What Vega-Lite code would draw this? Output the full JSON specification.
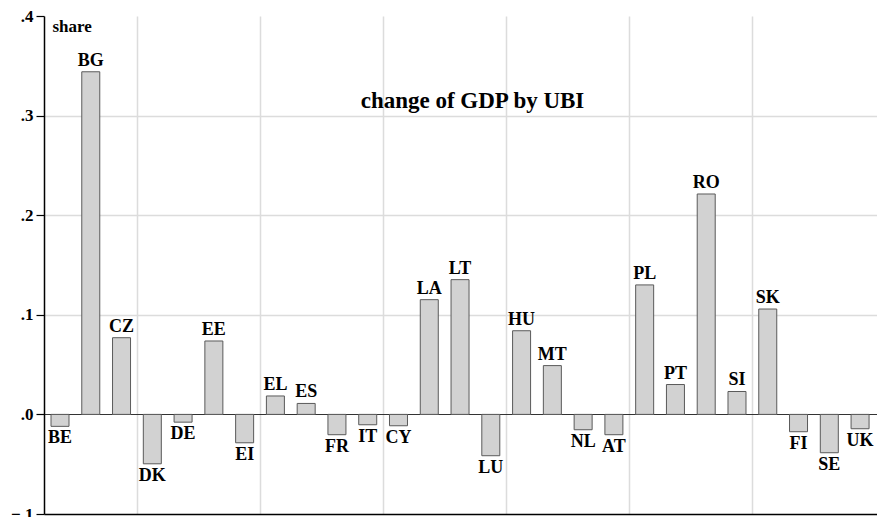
{
  "$schema": "https://vega.github.io/schema/vega-lite/v6.json",
  "width": 833,
  "height": 498,
  "autosize": {"type": "none"},
  "padding": {"left": 44, "top": 16, "right": 0, "bottom": 3},
  "background": "white",
  "title": {
    "text": "change of GDP by UBI",
    "font": "Liberation Serif",
    "fontWeight": "bold",
    "fontSize": 23,
    "color": "black",
    "anchor": "middle",
    "baseline": "middle",
    "offset": 0,
    "dy": 117,
    "dx": 12
  },
  "config": {
    "view": {"stroke": null},
    "text": {"font": "Liberation Serif", "fontWeight": "bold", "fontSize": 18, "color": "black"}
  },
  "data": {
    "values": [
      {"country": "BE", "idx": 1, "value": -0.012},
      {"country": "BG", "idx": 2, "value": 0.344},
      {"country": "CZ", "idx": 3, "value": 0.077},
      {"country": "DK", "idx": 4, "value": -0.0496},
      {"country": "DE", "idx": 5, "value": -0.0078},
      {"country": "EE", "idx": 6, "value": 0.0737},
      {"country": "EI", "idx": 7, "value": -0.0285},
      {"country": "EL", "idx": 8, "value": 0.0185},
      {"country": "ES", "idx": 9, "value": 0.011},
      {"country": "FR", "idx": 10, "value": -0.0204},
      {"country": "IT", "idx": 11, "value": -0.0104},
      {"country": "CY", "idx": 12, "value": -0.0114},
      {"country": "LA", "idx": 13, "value": 0.1152},
      {"country": "LT", "idx": 14, "value": 0.1353},
      {"country": "LU", "idx": 15, "value": -0.0415},
      {"country": "HU", "idx": 16, "value": 0.084},
      {"country": "MT", "idx": 17, "value": 0.049},
      {"country": "NL", "idx": 18, "value": -0.0154},
      {"country": "AT", "idx": 19, "value": -0.0204},
      {"country": "PL", "idx": 20, "value": 0.13},
      {"country": "PT", "idx": 21, "value": 0.03},
      {"country": "RO", "idx": 22, "value": 0.2213},
      {"country": "SI", "idx": 23, "value": 0.023},
      {"country": "SK", "idx": 24, "value": 0.1058},
      {"country": "FI", "idx": 25, "value": -0.0174},
      {"country": "SE", "idx": 26, "value": -0.0385},
      {"country": "UK", "idx": 27, "value": -0.0144}
    ]
  },
  "encoding": {
    "x": {
      "field": "idx",
      "type": "quantitative",
      "scale": {"domain": [0.48, 27.55], "nice": false, "zero": false, "padding": 0},
      "axis": {
        "title": null,
        "values": [3.5, 7.5, 11.5, 15.5, 19.5, 23.5],
        "labels": false,
        "ticks": false,
        "grid": true,
        "gridColor": "#dcdcdc",
        "gridWidth": 1.5,
        "domainColor": "black",
        "domainWidth": 1.5
      }
    },
    "y": {
      "field": "value",
      "type": "quantitative",
      "scale": {"domain": [-0.1, 0.4], "nice": false, "padding": 0},
      "axis": {
        "title": "share",
        "titleAngle": 0,
        "titleX": 8,
        "titleY": 10,
        "titleAlign": "left",
        "titleBaseline": "middle",
        "titleFont": "Liberation Serif",
        "titleFontWeight": "bold",
        "titleFontSize": 17,
        "titleColor": "black",
        "values": [-0.1, 0, 0.1, 0.2, 0.3, 0.4],
        "labelExpr": "replace(format(datum.value, '.1f'), '0.', '.')",
        "labelFont": "Liberation Serif",
        "labelFontWeight": "bold",
        "labelFontSize": 17,
        "labelColor": "black",
        "labelPadding": 3,
        "tickSize": 8,
        "tickColor": "black",
        "tickWidth": 1.2,
        "domainColor": "black",
        "domainWidth": 1.5,
        "grid": true,
        "gridColor": {
          "condition": [
            {"test": "datum.value == 0", "value": "#333333"},
            {"test": "datum.value > 0.35 || datum.value < -0.05", "value": "transparent"}
          ],
          "value": "#dcdcdc"
        },
        "gridWidth": {"condition": {"test": "datum.value == 0", "value": 1}, "value": 1.5}
      }
    }
  },
  "layer": [
    {
      "mark": {"type": "bar", "size": 18, "fill": "#d2d2d2", "stroke": "#5a5a5a", "strokeWidth": 1},
      "encoding": {
        "y": {"field": "value", "type": "quantitative"},
        "y2": {"datum": 0}
      }
    },
    {
      "transform": [{"filter": "datum.value >= 0"}],
      "mark": {"type": "text", "baseline": "bottom", "dy": -2},
      "encoding": {"text": {"field": "country"}}
    },
    {
      "transform": [{"filter": "datum.value < 0"}],
      "mark": {"type": "text", "baseline": "top", "dy": 3},
      "encoding": {"text": {"field": "country"}}
    }
  ]
}
